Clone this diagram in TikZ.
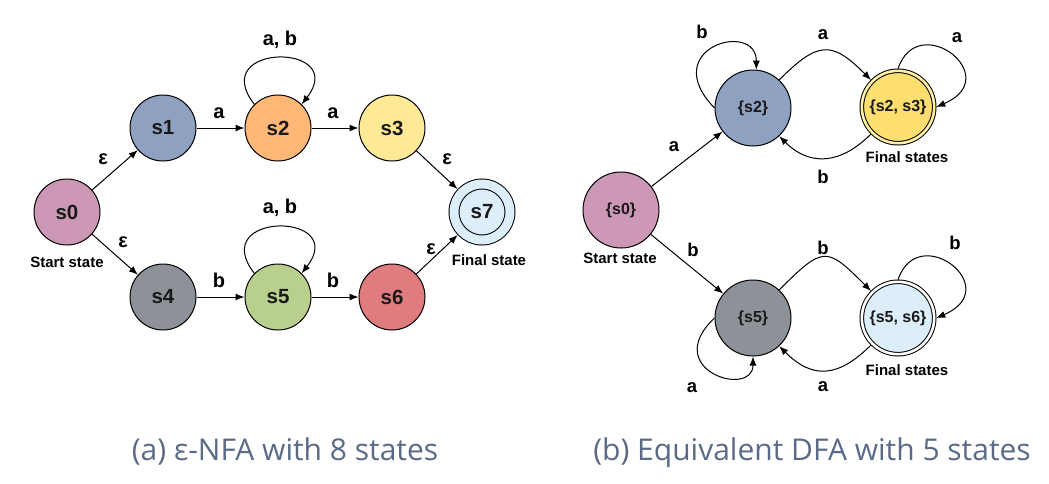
\documentclass[tikz,border=0pt]{standalone}
\usepackage{fontspec}
\setmainfont{Liberation Sans}
\newfontfamily\capfont{Open Sans}
\usetikzlibrary{arrows.meta}
\definecolor{cpink}{HTML}{CD98B5}
\definecolor{cblue}{HTML}{8FA1C1}
\definecolor{corange}{HTML}{FFB878}
\definecolor{cyellow}{HTML}{FFE994}
\definecolor{cgold}{HTML}{FCDF6E}
\definecolor{cgoldring}{HTML}{FFF0A6}
\definecolor{cgrey}{HTML}{8D9298}
\definecolor{cgreen}{HTML}{B8CF8E}
\definecolor{cred}{HTML}{E07C80}
\definecolor{cice}{HTML}{DDEEFB}
\definecolor{ccap}{HTML}{5B6B87}

\begin{document}
\begin{tikzpicture}[x=1pt,y=1pt,>={Latex[length=9pt,width=7pt]},
	state/.style={circle,draw,line width=1pt,minimum size=66pt,inner sep=0pt,text=black!90,font=\bfseries\fontsize{20.5}{20}\selectfont},
	dstate/.style={circle,draw,line width=1pt,minimum size=76pt,inner sep=0pt,text=black!90,font=\bfseries\fontsize{16}{16}\selectfont},
	dfinal/.style={dstate,double=#1,double distance=2.6pt,minimum size=72.4pt,outer sep=2pt},
	trans/.style={line width=1pt,->},
	lbl/.style={font=\bfseries\fontsize{20}{20}\selectfont},
	dlbl/.style={font=\bfseries\fontsize{18.5}{18}\selectfont},
	note/.style={font=\bfseries\fontsize{15}{15}\selectfont},
	caption/.style={anchor=base,text=ccap,font=\capfont\fontsize{30}{30}\selectfont}]
		\useasboundingbox (0,0) rectangle (1049,-483);
		% (a) epsilon-NFA
		\path (67,-212) node(s0)[state,fill=cpink]{s0}
		(163,-128) node(s1)[state,fill=cblue]{s1}
		(278,-128) node(s2)[state,fill=corange]{s2}
		(392,-128) node(s3)[state,fill=cyellow]{s3}
		(163,-297) node(s4)[state,fill=cgrey]{s4}
		(278,-297) node(s5)[state,fill=cgreen]{s5}
		(392,-297) node(s6)[state,fill=cred]{s6}
		(482,-212) node(s7)[state,fill=cice,double=cice,double distance=9pt,minimum size=56pt,outer sep=5.5pt]{s7};
		\path (103,-159) node(l01)[lbl]{ε}
		(123,-242) node(l04)[lbl]{ε}
		(447,-159) node(l37)[lbl]{ε}
		(431,-249) node(l67)[lbl]{ε}
		(219,-113) node(l12)[lbl]{a}
		(333,-113) node(l23)[lbl]{a}
		(219,-280) node(l45)[lbl]{b}
		(333,-280) node(l56)[lbl]{b}
		(280,-40) node(l22)[lbl]{a, b}
		(280,-208) node(l55)[lbl]{a, b}
		(67,-262) node(start)[note]{Start state}
		(489,-260) node(final)[note]{Final state};
		\draw [trans] (s0) to (s1);
		\draw [trans] (s0) to (s4);
		\draw [trans] (s1) to (s2);
		\draw [trans] (s2) to (s3);
		\draw [trans] (s3) to (s7);
		\draw [trans] (s4) to (s5);
		\draw [trans] (s5) to (s6);
		\draw [trans] (s6) to (s7);
		\draw [trans] (s2.135) .. controls +(-48,62) and +(48,62) .. (s2.45);
		\draw [trans] (s5.135) .. controls +(-48,62) and +(48,62) .. (s5.45);
		% (b) equivalent DFA
		\path (621,-210) node(d0)[dstate,fill=cpink]{\{s0\}}
		(753,-108) node(d2)[dstate,fill=cblue]{\{s2\}}
		(898,-107) node(d23)[dfinal=cgoldring,fill=cgold]{\{s2, s3\}}
		(753,-318) node(d5)[dstate,fill=cgrey]{\{s5\}}
		(898,-318) node(d56)[dfinal=white,fill=cice]{\{s5, s6\}};
		\path (674,-147) node(m02)[dlbl]{a}
		(693,-250) node(m05)[dlbl]{b}
		(702,-32) node(m22)[dlbl]{b}
		(823,-35) node(m223)[dlbl]{a}
		(957,-38) node(m2323)[dlbl]{a}
		(823,-177) node(m232)[dlbl]{b}
		(823,-248) node(m556)[dlbl]{b}
		(955,-243) node(m5656)[dlbl]{b}
		(692,-388) node(m55)[dlbl]{a}
		(823,-387) node(m565)[dlbl]{a}
		(620,-258) node(dstart)[note]{Start state}
		(907,-157) node(dfin1)[note]{Final states}
		(907,-370) node(dfin2)[note]{Final states};
		\draw [trans] (d0) to (d2);
		\draw [trans] (d0) to (d5);
		\draw [trans] (d2.47) to[out=45,in=135,looseness=1.55] (d23.135);
		\draw [trans] (d23.-135) to[out=-135,in=-45,looseness=1.2] (d2.-47);
		\draw [trans] (d5.47) to[out=45,in=135,looseness=1.75] (d56.135);
		\draw [trans] (d56.-135) to[out=-135,in=-45,looseness=1.3] (d5.-47);
		\draw [trans] (d2.180) .. controls +(-58,60) and +(0,50) .. (d2.85);
		\draw [trans] (d23.90) .. controls +(20,60) and +(70,30) .. (d23.0);
		\draw [trans] (d5.180) .. controls +(-55,-52) and +(0,-42) .. (d5.-90);
		\draw [trans] (d56.90) .. controls +(20,60) and +(70,30) .. (d56.0);
		% captions
		\path (285,-460) node(capa)[caption]{(a) ε-NFA with 8 states}
		(812,-460) node(capb)[caption]{(b) Equivalent DFA with 5 states};
	\end{tikzpicture}
\end{document}
